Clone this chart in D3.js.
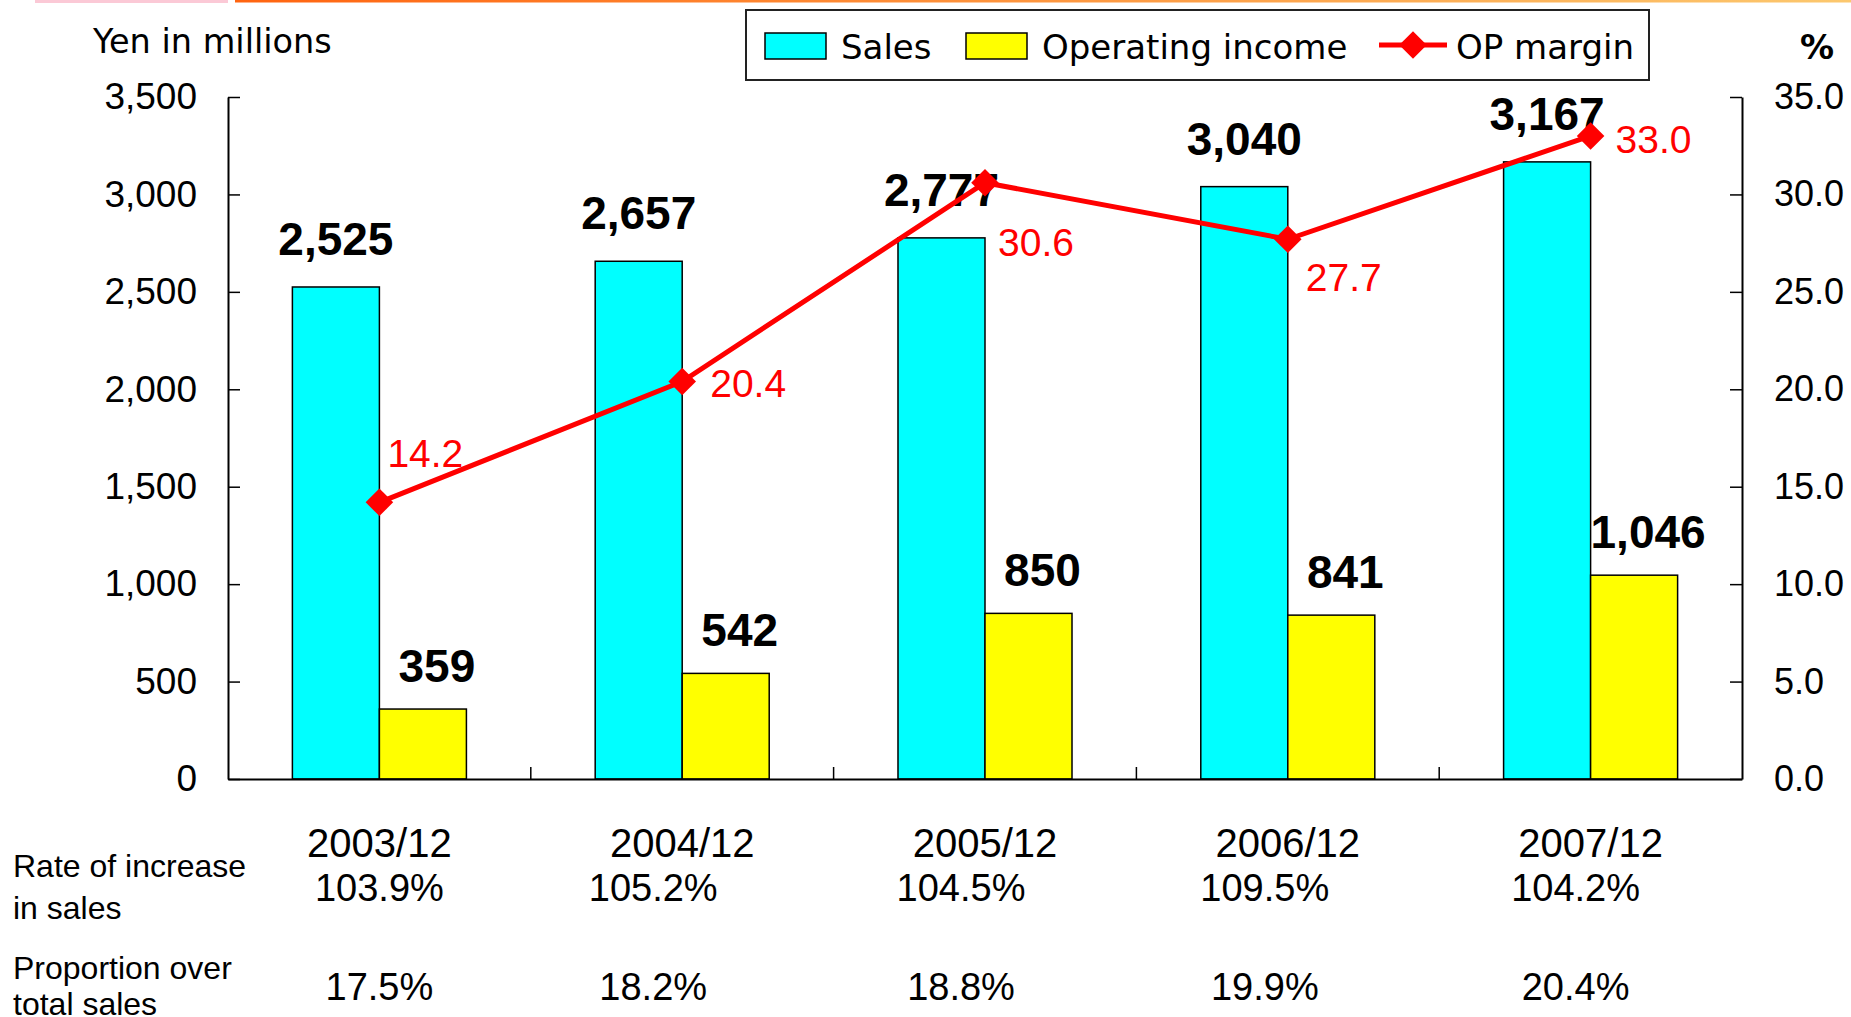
<!DOCTYPE html>
<html>
<head>
<meta charset="utf-8">
<script src="https://cdn.jsdelivr.net/npm/d3@7"></script>
<style>
  html, body { margin: 0; padding: 0; background: #fff; }
  svg text { font-family: "Liberation Sans", Arial, sans-serif; }
</style>
</head>
<body>
<div id="chart"></div>
<script>
var categories = ['2003/12', '2004/12', '2005/12', '2006/12', '2007/12'],
  sales = [2525, 2657, 2777, 3040, 3167],
  opIncome = [359, 542, 850, 841, 1046],
  opMargin = [14.2, 20.4, 30.6, 27.7, 33.0],
  salesGrowth = ['103.9%', '105.2%', '104.5%', '109.5%', '104.2%'],
  salesShare = ['17.5%', '18.2%', '18.8%', '19.9%', '20.4%'],
  leftTicks = [0, 500, 1000, 1500, 2000, 2500, 3000, 3500],
  rightTicks = [0, 5, 10, 15, 20, 25, 30, 35];

// note: "top" is taken by window.top, so plot edges get their own names
var width = 1851,
  height = 1017,
  plotLeft = 228,
  plotRight = 1742,
  plotTop = 97,
  plotBottom = 779;

var svg = d3.select('#chart').append('svg')
  .attr('width', width)
  .attr('height', height);

// decoration strip on top
var defs = svg.append('defs');
var grad = defs.append('linearGradient').attr('id', 'strip');
grad.append('stop').attr('offset', '0%').attr('stop-color', '#ff6410');
grad.append('stop').attr('offset', '100%').attr('stop-color', '#fcc86e');
svg.append('rect').attr('x', 35).attr('y', 0).attr('width', 193).attr('height', 3)
  .style('fill', '#fbc9d6');
svg.append('rect').attr('x', 235).attr('y', 0).attr('width', width - 235).attr('height', 2.5)
  .style('fill', 'url(#strip)');

var x = d3.scaleBand().domain(categories).range([plotLeft, plotRight]).padding(0),
  xs = d3.scaleBand().domain(['sales', 'op']).range([0, x.bandwidth()])
    .paddingInner(0).paddingOuter(0.74),
  y = d3.scaleLinear().domain([0, 3500]).range([plotBottom, plotTop]),
  y2 = d3.scaleLinear().domain([0, 35]).range([plotBottom, plotTop]);

var rows = categories.map(function (c, i) {
  return {cat: c, sales: sales[i], op: opIncome[i], margin: opMargin[i]};
});

// bars
var groups = svg.append('g').selectAll('g')
  .data(rows)
  .enter()
  .append('g')
  .attr('transform', function (d) { return 'translate(' + x(d.cat) + ',0)'; });

groups.append('rect')
  .attr('x', xs('sales'))
  .attr('y', function (d) { return y(d.sales); })
  .attr('width', xs.bandwidth())
  .attr('height', function (d) { return plotBottom - y(d.sales); })
  .style('fill', '#00ffff')
  .style('stroke', '#000')
  .style('stroke-width', 1.5);

groups.append('rect')
  .attr('x', xs('op'))
  .attr('y', function (d) { return y(d.op); })
  .attr('width', xs.bandwidth())
  .attr('height', function (d) { return plotBottom - y(d.op); })
  .style('fill', '#ffff00')
  .style('stroke', '#000')
  .style('stroke-width', 1.5);

// axes
var leftAxis = svg.append('g')
  .attr('transform', 'translate(' + plotLeft + ',0)')
  .call(d3.axisLeft(y).tickValues(leftTicks).tickFormat(d3.format(','))
    .tickSizeInner(-12).tickSizeOuter(0).tickPadding(31));

var rightAxis = svg.append('g')
  .attr('transform', 'translate(' + plotRight + ',0)')
  .call(d3.axisRight(y2).tickValues(rightTicks).tickFormat(d3.format('.1f'))
    .tickSizeInner(-12).tickSizeOuter(0).tickPadding(32));

var bottomAxis = svg.append('g')
  .attr('transform', 'translate(0,' + plotBottom + ')')
  .call(d3.axisBottom(x).tickSize(0).tickPadding(50));

[leftAxis, rightAxis, bottomAxis].forEach(function (a) {
  a.select('.domain').style('stroke', '#000').style('stroke-width', 2);
  a.selectAll('.tick line').style('stroke', '#000').style('stroke-width', 1.5);
  a.selectAll('text').style('font-family', '"Liberation Sans", Arial, sans-serif')
    .style('fill', '#000');
});
leftAxis.selectAll('text').style('font-size', '37px');
rightAxis.selectAll('text').style('font-size', '36px');
bottomAxis.selectAll('text').style('font-size', '40px');

svg.append('g').selectAll('line')
  .data(categories.slice(1))
  .enter()
  .append('line')
  .attr('x1', function (d) { return x(d); })
  .attr('x2', function (d) { return x(d); })
  .attr('y1', plotBottom)
  .attr('y2', plotBottom - 12)
  .style('stroke', '#000')
  .style('stroke-width', 1.5);

// value labels
groups.append('text')
  .attr('x', xs('sales') + xs.bandwidth() / 2)
  .attr('y', function (d) { return y(d.sales) - 32; })
  .attr('text-anchor', 'middle')
  .style('font-weight', 'bold')
  .style('font-size', '46px')
  .text(function (d) { return d3.format(',')(d.sales); });

groups.append('text')
  .attr('x', xs('op') + xs.bandwidth() / 2 + 14)
  .attr('y', function (d) { return y(d.op) - 27; })
  .attr('text-anchor', 'middle')
  .style('font-weight', 'bold')
  .style('font-size', '46px')
  .text(function (d) { return d3.format(',')(d.op); });

// OP margin line
var cx = function (d) { return x(d.cat) + x.bandwidth() / 2; };
var line = d3.line()
  .x(cx)
  .y(function (d) { return y2(d.margin); });

svg.append('path')
  .datum(rows)
  .attr('d', line)
  .style('fill', 'none')
  .style('stroke', '#ff0000')
  .style('stroke-width', 5);

var diamond = d3.symbol().type(d3.symbolSquare).size(380);
svg.append('g').selectAll('path')
  .data(rows)
  .enter()
  .append('path')
  .attr('d', diamond)
  .attr('transform', function (d) {
    return 'translate(' + cx(d) + ',' + y2(d.margin) + ') rotate(45)';
  })
  .style('fill', '#ff0000');

// hand placed nudges for the margin labels
var nudge = [[8, -35], [28, 16], [13, 73], [18, 52], [25, 17]];
svg.append('g').selectAll('text')
  .data(rows)
  .enter()
  .append('text')
  .attr('x', function (d, i) { return cx(d) + nudge[i][0]; })
  .attr('y', function (d, i) { return y2(d.margin) + nudge[i][1]; })
  .style('fill', '#ff0000')
  .style('font-size', '39px')
  .text(function (d) { return d3.format('.1f')(d.margin); });

// axis titles
svg.append('text')
  .attr('x', 93).attr('y', 53)
  .style('font-family', '"DejaVu Sans", sans-serif')
  .style('font-size', '33.5px')
  .text('Yen in millions');

svg.append('text')
  .attr('x', 1800).attr('y', 59)
  .style('font-family', '"DejaVu Sans", sans-serif')
  .style('font-weight', 'bold')
  .style('font-size', '34px')
  .text('%');

// legend
var legend = svg.append('g');
legend.append('rect')
  .attr('x', 746).attr('y', 10).attr('width', 903).attr('height', 70)
  .style('fill', '#fff').style('stroke', '#222').style('stroke-width', 2);

var items = [
  {label: 'Sales', color: '#00ffff', x: 765},
  {label: 'Operating income', color: '#ffff00', x: 966}
];
legend.selectAll('rect.sw')
  .data(items)
  .enter()
  .append('rect')
  .attr('class', 'sw')
  .attr('x', function (d) { return d.x; })
  .attr('y', 33).attr('width', 61).attr('height', 26)
  .style('fill', function (d) { return d.color; })
  .style('stroke', '#000').style('stroke-width', 1.5);
legend.selectAll('text.it')
  .data(items)
  .enter()
  .append('text')
  .attr('class', 'it')
  .attr('x', function (d) { return d.x + 76; })
  .attr('y', 59)
  .style('font-family', '"DejaVu Sans", sans-serif')
  .style('font-size', '34px')
  .text(function (d) { return d.label; });

legend.append('line')
  .attr('x1', 1379).attr('x2', 1447).attr('y1', 45).attr('y2', 45)
  .style('stroke', '#ff0000').style('stroke-width', 5);
legend.append('path')
  .attr('d', diamond)
  .attr('transform', 'translate(1413,45) rotate(45)')
  .style('fill', '#ff0000');
legend.append('text')
  .attr('x', 1456).attr('y', 59)
  .style('font-family', '"DejaVu Sans", sans-serif')
  .style('font-size', '34px')
  .text('OP margin');

// table under the chart
var colNudge = [0, -29, -24, -23, -15];
var table = svg.append('g').style('font-size', '38px');

table.append('text').attr('x', 13).attr('y', 877).style('font-size', '32px').text('Rate of increase');
table.append('text').attr('x', 13).attr('y', 919).style('font-size', '32px').text('in sales');
table.append('text').attr('x', 13).attr('y', 979).style('font-size', '32px').text('Proportion over');
table.append('text').attr('x', 13).attr('y', 1015).style('font-size', '32px').text('total sales');

table.selectAll('text.g')
  .data(salesGrowth)
  .enter()
  .append('text')
  .attr('class', 'g')
  .attr('x', function (d, i) { return x(categories[i]) + x.bandwidth() / 2 + colNudge[i]; })
  .attr('y', 901)
  .attr('text-anchor', 'middle')
  .text(function (d) { return d; });

table.selectAll('text.s')
  .data(salesShare)
  .enter()
  .append('text')
  .attr('class', 's')
  .attr('x', function (d, i) { return x(categories[i]) + x.bandwidth() / 2 + colNudge[i]; })
  .attr('y', 1000)
  .attr('text-anchor', 'middle')
  .text(function (d) { return d; });
</script>
</body>
</html>
